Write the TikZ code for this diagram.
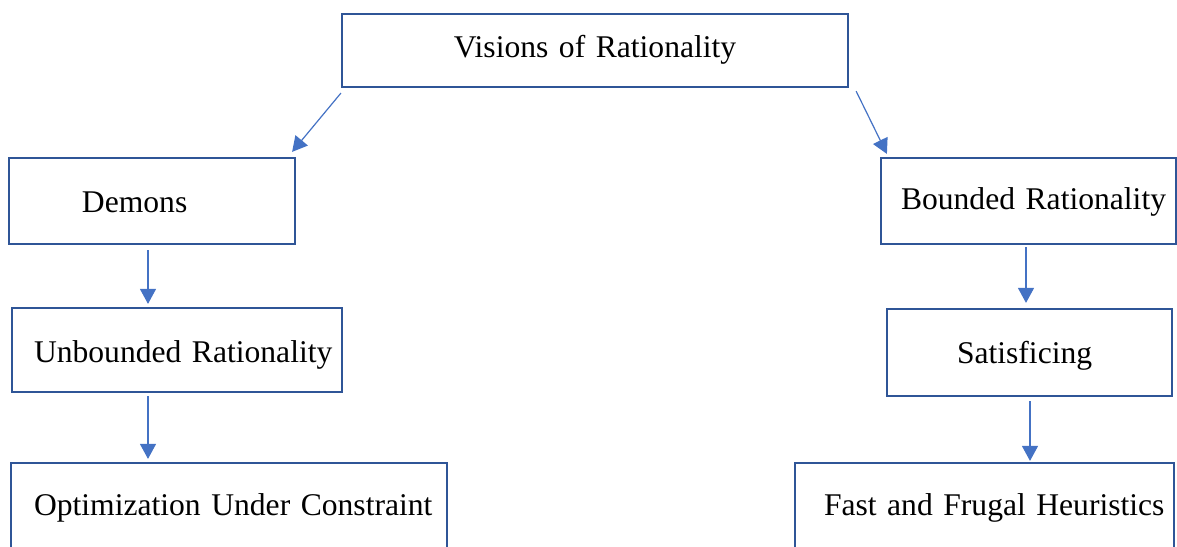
\documentclass[tikz,border=0pt]{standalone}
\usepackage{fontspec}
\setmainfont{Liberation Serif}
\usetikzlibrary{arrows.meta}
\definecolor{boxblue}{HTML}{2F5597}
\definecolor{arrowblue}{HTML}{4472C4}

\begin{document}
\begin{tikzpicture}[x=1pt, y=-1pt,
        box/.style={draw=boxblue, line width=2.2pt, inner xsep=0pt, inner ysep=0pt, align=left,
            text height=22pt, text depth=0pt, font=\fontsize{31.6}{38}\selectfont},
        arr/.style={draw=arrowblue, line width=1.2pt, -{Triangle[width=16pt,length=15pt]}}]
        \useasboundingbox (0,0) rectangle (1177,546);
        \clip (0,0) rectangle (1177,546);
        % top
        \node[box, text width=506pt, minimum height=73pt, align=center, text depth=9pt] (vis) at (595,50.5) {Visions of Rationality};
        % left column
        \node[box, text width=286pt, minimum height=86pt] (demons) at (152,201) {\hspace*{73pt}Demons};
        \node[box, text width=330pt, minimum height=84pt, text height=24pt] (unbounded) at (177,350) {\hspace*{22pt}Unbounded Rationality};
        \node[box, text width=436pt, minimum height=90pt, text depth=8pt] (optim) at (229,508) {\hspace*{23pt}Optimization Under Constraint};
        % right column
        \node[box, text width=295pt, minimum height=86pt, text depth=6pt] (bounded) at (1028.5,201) {\hspace*{20pt}Bounded Rationality};
        \node[box, text width=285pt, minimum height=87pt] (satis) at (1029.5,352.5) {\hspace*{70pt}Satisficing};
        \node[box, text width=379pt, minimum height=90pt, text depth=8pt] (frugal) at (984.5,508) {\hspace*{29pt}Fast and Frugal Heuristics};
        % arrows
        \draw[arr] ([yshift=-5pt]vis.south west) -- ([xshift=-4pt,yshift=5pt]demons.north east);
        \draw[arr] ([xshift=7pt,yshift=-3pt]vis.south east) -- ([xshift=7pt,yshift=3pt]bounded.north west);
        \draw[arr, shorten >=3pt] ([xshift=-4pt,yshift=-5pt]demons.south) -- ([xshift=-4pt]demons.south |- unbounded.north);
        \draw[arr, shorten >=3pt] ([xshift=-29pt,yshift=-3pt]unbounded.south) -- ([xshift=-29pt]unbounded.south |- optim.north);
        \draw[arr, shorten >=5pt] ([xshift=-2.5pt,yshift=-2pt]bounded.south) -- ([xshift=-2.5pt]bounded.south |- satis.north);
        \draw[arr, shorten >=1pt] ([xshift=0.5pt,yshift=-4pt]satis.south) -- ([xshift=0.5pt]satis.south |- frugal.north);
\end{tikzpicture}
\end{document}
